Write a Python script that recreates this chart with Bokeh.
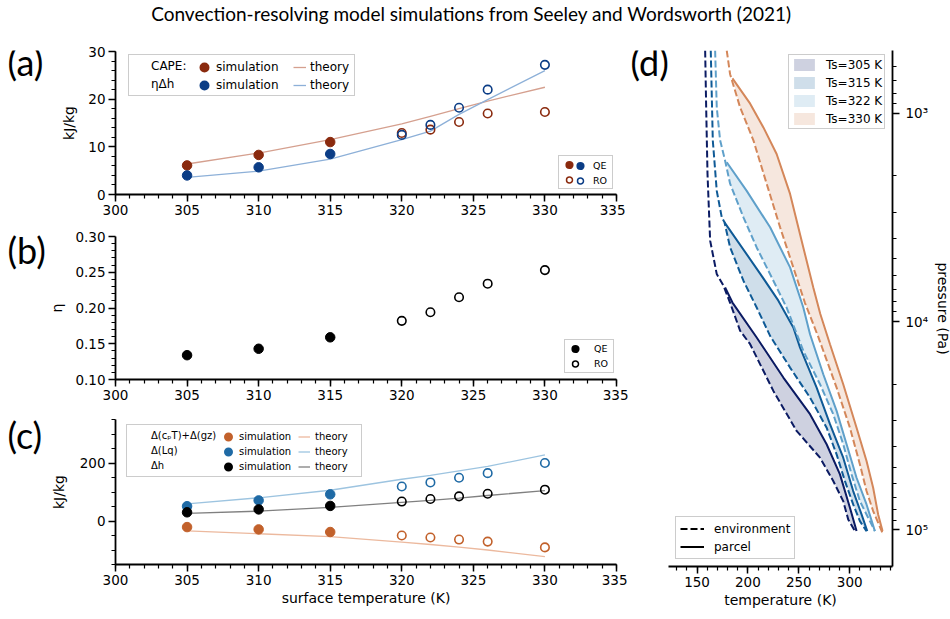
import numpy as np
from bokeh.plotting import figure
from bokeh.layouts import column, row
from bokeh.models import (Range1d, SingleIntervalTicker, FixedTicker, Legend, LegendItem,
                          PrintfTickFormatter)
from bokeh.core.properties import value
from bokeh.embed import file_html
from bokeh.resources import INLINE

TITLE = "Convection-resolving model simulations from Seeley and Wordsworth (2021)"
PANEL_LABELS = ["(a)", "(b)", "(c)"]

# ---------------- panel (a)/(b)/(c) data ----------------
ts_qe = [305, 310, 315]
ts_ro = [320, 322, 324, 326, 330]
ts_theory = [305, 310, 315, 320, 322, 324, 326, 330]

cape_qe = [6.1, 8.3, 11.0]
cape_ro = [12.9, 13.6, 15.2, 17.0, 17.3]
etadh_qe = [4.0, 5.7, 8.5]
etadh_ro = [12.5, 14.6, 18.2, 22.0, 27.2]
cape_theory = [6.4, 8.7, 11.5, 14.8, 16.4, 18.0, 19.6, 22.5]
etadh_theory = [3.6, 4.9, 7.4, 11.5, 13.3, 16.8, 19.9, 26.0]

eta_qe = [0.134, 0.143, 0.159]
eta_ro = [0.182, 0.194, 0.215, 0.234, 0.253]
eta_ticks = [0.10, 0.15, 0.20, 0.25, 0.30]
eta_minor = [0.11, 0.12, 0.13, 0.14, 0.16, 0.17, 0.18, 0.19, 0.21, 0.22, 0.23, 0.24,
             0.26, 0.27, 0.28, 0.29]

dse_qe = [-21, -29, -38]
dse_ro = [-50, -57, -64, -71, -91]
lq_qe = [51, 71, 92]
lq_ro = [119, 133, 149, 165, 200]
dh_qe = [30, 40, 52]
dh_ro = [67, 76, 85, 94, 108]
dse_theory = [-34, -44, -54, -73, -81, -90, -100, -123]
lq_theory = [59, 80, 106, 144, 157, 173, 188, 228]
dh_theory = [26, 34, 47, 64, 71, 79, 88, 105]

# ---------------- panel (d) data: temperature (K) vs pressure (Pa) ----------------
env305_T = [158.0, 159.0, 160.3, 162.9, 169.4, 176.0, 182.5, 192.4, 202.2, 225.0, 247.8, 270.8, 283.8, 293.6, 298.5, 305.1]
env305_p = [500, 940, 1950, 4090, 5920, 6730, 8130, 11090, 12850, 21540, 33500, 45050, 58300, 72800, 89100, 101400]
par305_T = [177.6, 184.8, 208.6, 234.8, 261.0, 277.3, 290.4, 300.2, 306.7]
par305_p = [6870, 8110, 11940, 18580, 27860, 38830, 54170, 78340, 101400]

env315_T = [163.5, 165.5, 169.4, 174.3, 177.0, 182.5, 195.6, 208.6, 221.8, 241.4, 261.0, 277.3, 287.1, 295.3, 303.4, 310.0, 316.5]
env315_p = [500, 1350, 2360, 3160, 3340, 4410, 6370, 8570, 11720, 16640, 23180, 32340, 43430, 58390, 75540, 90850, 101400]
par315_T = [177.0, 212.3, 229.9, 244.6, 251.2, 267.5, 280.6, 293.6, 303.4, 311.6, 317.2]
par315_p = [3340, 5920, 7940, 10680, 13340, 20760, 31120, 45060, 65150, 84330, 101400]

env322_T = [167.8, 169.4, 172.7, 177.6, 182.5, 195.6, 208.6, 225.0, 238.0, 254.4, 270.8, 283.8, 293.6, 301.8, 310.0, 318.1, 324.7]
env322_p = [500, 940, 1350, 1690, 2180, 3160, 4410, 6370, 8570, 13840, 20000, 27860, 38830, 54170, 72800, 87500, 101400]
par322_T = [179.2, 198.8, 221.8, 241.4, 254.4, 261.0, 274.0, 287.1, 296.9, 306.7, 316.5, 324.7]
par322_p = [1720, 2360, 3530, 5500, 8570, 11510, 17910, 26850, 38830, 56240, 75540, 101400]

env330_T = [179.2, 182.5, 192.4, 205.4, 218.4, 231.6, 244.6, 255.9, 269.1, 287.1, 300.2, 310.0, 316.5, 323.0, 332.8]
env330_p = [500, 650, 940, 1350, 2180, 3530, 5500, 8110, 11860, 20760, 32340, 48520, 65150, 81240, 105200]
par330_T = [184.8, 202.2, 215.2, 228.2, 241.4, 254.4, 264.2, 271.1, 280.6, 293.6, 306.7, 316.5, 323.0, 327.9, 332.2]
par330_p = [680, 900, 1170, 1570, 2440, 4410, 6870, 9200, 12850, 20000, 32340, 46770, 62810, 84330, 101400]

ts_labels = ["Ts=305 K", "Ts=315 K", "Ts=322 K", "Ts=330 K"]
p_major = [1e3, 1e4, 1e5]
p_minor = [600, 700, 800, 900, 2000, 3000, 4000, 5000, 6000, 7000, 8000, 9000,
           20000, 30000, 40000, 50000, 60000, 70000, 80000, 90000]

# ---------------- colours ----------------
RED_A, BLUE_A = "#8a2a0e", "#0b3d86"
RED_TH, BLUE_TH = "#d5a08f", "#8db0d8"
OR_C, BL_C, BK = "#c2612b", "#1f6aa5", "black"
OR_TH, BL_TH, GR_TH = "#ecb99e", "#9dc4e0", "#808080"
D_COLS = ["#0b1b63", "#0f5a96", "#5fa0ca", "#d4875a"]

FONT = "DejaVu Sans"
NAN = np.array([np.nan])


def style_axes(p):
    for ax in p.axis:
        ax.axis_line_width = 1.8
        ax.axis_line_color = "black"
        ax.major_tick_line_width = 1.5
        ax.minor_tick_line_width = 1.2
        ax.major_tick_line_color = "black"
        ax.minor_tick_line_color = "black"
        ax.major_tick_out = 7
        ax.major_tick_in = 0
        ax.minor_tick_out = 4
        ax.minor_tick_in = 0
        ax.major_label_text_font = FONT
        ax.major_label_text_font_size = "13.5px"
        ax.major_label_text_color = "black"
        ax.major_label_standoff = 3
        ax.axis_label_text_font = FONT
        ax.axis_label_text_font_size = "14px"
        ax.axis_label_text_font_style = "normal"
        ax.axis_label_text_color = "black"
    p.grid.visible = False
    p.outline_line_color = None


def add_legend(p, items, loc, font_size, gw, gh, spacing, padding, standoff,
               label_width, boxed):
    # every legend of a group shares the same layout properties so that rows line up
    leg = Legend(items=[LegendItem(label=l, renderers=[r]) for l, r in items],
                 location=loc, orientation="vertical", margin=0,
                 glyph_width=gw, glyph_height=gh, label_height=gh, label_width=label_width,
                 spacing=spacing, padding=padding, label_standoff=standoff,
                 label_text_font=FONT, label_text_font_size=font_size,
                 label_text_color="black",
                 border_line_color="#cccccc", border_line_width=1,
                 border_line_alpha=1.0 if boxed else 0.0,
                 background_fill_color="white",
                 background_fill_alpha=0.85 if boxed else 0.0)
    p.add_layout(leg)
    return leg


def left_fig(yr, fh, top, bottom):
    p = figure(frame_width=501, frame_height=fh, x_range=Range1d(300, 335),
               y_range=Range1d(*yr), toolbar_location=None, output_backend="svg",
               min_border_left=66, min_border_right=12, min_border_top=top,
               min_border_bottom=bottom)
    p.xaxis.ticker = SingleIntervalTicker(interval=5, num_minor_ticks=5)
    return p


def proxy_marker(p, color, filled, lw):
    # legend-only proxy (a single NaN point is never drawn in the plot)
    return p.scatter(x=NAN, y=NAN, marker="circle", size=5,
                     fill_color=color if filled else None, line_color=color, line_width=lw)


def proxy_line(p, color, dash="solid"):
    return p.line(x=NAN, y=NAN, line_color=color, line_width=2, line_dash=dash)


def label_fig(w, xs, ys, texts):
    f = figure(frame_width=w, frame_height=575, x_range=Range1d(0, w), y_range=Range1d(0, 575),
               x_axis_type=None, y_axis_type=None, toolbar_location=None, output_backend="svg",
               min_border=0, outline_line_color=None, title=None, align="start")
    f.text(x=xs, y=ys, text=texts, text_font=value("Lato"), text_font_size="36px",
           text_baseline="middle", text_align="left", text_color="black")
    return f


# ---------------- title ----------------
tf = figure(frame_width=942, frame_height=36, x_range=Range1d(0, 1), y_range=Range1d(0, 36),
            x_axis_type=None, y_axis_type=None, toolbar_location=None, output_backend="svg",
            min_border=0, outline_line_color=None)
tf.text(x=[0.5], y=[35], text=[TITLE], text_font=value("Lato"), text_font_size="19px",
        text_align="center", text_baseline="top", text_color="black")

# ---------------- panel (a) ----------------
fa = left_fig((0, 30), 143, 15, 29)
fa.yaxis.ticker = SingleIntervalTicker(interval=10, num_minor_ticks=5)
fa.yaxis.axis_label = "kJ/kg"
th_cape = fa.line(ts_theory, cape_theory, line_color=RED_TH, line_width=1.3)
th_eta = fa.line(ts_theory, etadh_theory, line_color=BLUE_TH, line_width=1.3)
fa.scatter(ts_qe, cape_qe, marker="circle", size=9.5, fill_color=RED_A, line_color=RED_A)
fa.scatter(ts_qe, etadh_qe, marker="circle", size=9.5, fill_color=BLUE_A, line_color=BLUE_A)
fa.scatter(ts_ro, cape_ro, marker="circle", size=8.5, fill_color=None, line_color=RED_A, line_width=1.6)
fa.scatter(ts_ro, etadh_ro, marker="circle", size=8.5, fill_color=None, line_color=BLUE_A, line_width=1.6)
style_axes(fa)
fa.yaxis.axis_label_standoff = 8
blank_a = fa.scatter(x=NAN, y=NAN, size=1, fill_alpha=0, line_alpha=0)
A_ROW = dict(font_size="12px", gh=16, spacing=2, padding=3, label_width=200)
add_legend(fa, [("CAPE:", blank_a), ("ηΔh", blank_a)], (13, 98), gw=14, standoff=5,
           boxed=True, **A_ROW)
add_legend(fa, [("simulation", proxy_marker(fa, RED_A, True, 4.4)),
                ("simulation", proxy_marker(fa, BLUE_A, True, 4.4))],
           (79, 98), gw=14, standoff=5, boxed=False, **A_ROW)
add_legend(fa, [("theory", th_cape), ("theory", th_eta)],
           (175, 98), gw=13, standoff=4, boxed=False, **A_ROW)
Q_ROW = dict(font_size="9.5px", gh=15, spacing=0, padding=1, label_width=33)
add_legend(fa, [(" ", proxy_marker(fa, RED_A, True, 2.2)),
                (" ", proxy_marker(fa, RED_A, False, 1.5))],
           (443, 5), gw=18, standoff=0, boxed=True, **Q_ROW)
add_legend(fa, [("QE", proxy_marker(fa, BLUE_A, True, 2.2)),
                ("RO", proxy_marker(fa, BLUE_A, False, 1.5))],
           (455, 5), gw=18, standoff=4, boxed=False, **Q_ROW)

# ---------------- panel (b) ----------------
fb = left_fig((0.10, 0.30), 143, 13, 27)
fb.yaxis.ticker = FixedTicker(ticks=eta_ticks, minor_ticks=eta_minor)
fb.yaxis.formatter = PrintfTickFormatter(format="%.2f")
fb.yaxis.axis_label = "η"
fb.scatter(ts_qe, eta_qe, marker="circle", size=9.5, fill_color=BK, line_color=BK)
fb.scatter(ts_ro, eta_ro, marker="circle", size=8.5, fill_color=None, line_color=BK, line_width=1.6)
style_axes(fb)
fb.yaxis.axis_label_standoff = 7
add_legend(fb, [("QE", proxy_marker(fb, BK, True, 2.2)),
                ("RO", proxy_marker(fb, BK, False, 1.5))],
           (449, 6), "9.5px", 18, 15, 0, 1, 10, label_width=18, boxed=True)

# ---------------- panel (c) ----------------
fc = left_fig((-150, 350), 145, 13, 46)
fc.yaxis.ticker = SingleIntervalTicker(interval=200, num_minor_ticks=4)
fc.yaxis.axis_label = "kJ/kg"
fc.xaxis.axis_label = "surface temperature (K)"
th_dse = fc.line(ts_theory, dse_theory, line_color=OR_TH, line_width=1.3)
th_lq = fc.line(ts_theory, lq_theory, line_color=BL_TH, line_width=1.3)
th_dh = fc.line(ts_theory, dh_theory, line_color=GR_TH, line_width=1.3)
for qe, ro, col in [(dse_qe, dse_ro, OR_C), (lq_qe, lq_ro, BL_C), (dh_qe, dh_ro, BK)]:
    fc.scatter(ts_qe, qe, marker="circle", size=9.5, fill_color=col, line_color=col)
    fc.scatter(ts_ro, ro, marker="circle", size=8.5, fill_color=None, line_color=col, line_width=1.6)
style_axes(fc)
fc.yaxis.axis_label_standoff = 10
fc.xaxis.axis_label_standoff = 2
blank_c = fc.scatter(x=NAN, y=NAN, size=1, fill_alpha=0, line_alpha=0)
C_ROW = dict(font_size="10px", gh=13, spacing=2, padding=4, label_width=206)
add_legend(fc, [("Δ(cₚT)+Δ(gz)", blank_c), ("Δ(Lq)", blank_c), ("Δh", blank_c)],
           (11, 87), gw=15, standoff=5, boxed=True, **C_ROW)
add_legend(fc, [("simulation", proxy_marker(fc, OR_C, True, 4.2)),
                ("simulation", proxy_marker(fc, BL_C, True, 4.2)),
                ("simulation", proxy_marker(fc, BK, True, 4.2))],
           (103, 87), gw=12, standoff=5, boxed=False, **C_ROW)
add_legend(fc, [("theory", th_dse), ("theory", th_lq), ("theory", th_dh)],
           (179, 87), gw=12, standoff=5, boxed=False, **C_ROW)

# ---------------- panel (d) ----------------
fd = figure(frame_width=224, frame_height=516, x_range=Range1d(122, 342),
            y_range=Range1d(150000, 500), y_axis_type="log", y_axis_location="right",
            toolbar_location=None, output_backend="svg",
            min_border_left=0, min_border_right=53, min_border_top=14, min_border_bottom=45)
fd.xaxis.ticker = SingleIntervalTicker(interval=50, num_minor_ticks=5)
fd.yaxis.ticker = FixedTicker(ticks=p_major, minor_ticks=p_minor)
fd.yaxis.major_label_overrides = {1000: "10³", 10000: "10⁴", 100000: "10⁵"}
fd.xaxis.axis_label = "temperature (K)"
fd.yaxis.axis_label = "pressure (Pa)"

profiles = [(env305_T, env305_p, par305_T, par305_p),
            (env315_T, env315_p, par315_T, par315_p),
            (env322_T, env322_p, par322_T, par322_p),
            (env330_T, env330_p, par330_T, par330_p)]
patches = []
for (eT, ep, pT, pp), col in zip(profiles, D_COLS):
    eT_a, ep_a = np.array(eT), np.array(ep)
    keep = ep_a > pp[0]
    xs = list(pT) + list(eT_a[keep][::-1])
    ys = list(pp) + list(ep_a[keep][::-1])
    patches.append(fd.patch(xs, ys, fill_color=col, fill_alpha=0.2, line_alpha=0))
for (eT, ep, pT, pp), col in zip(profiles, D_COLS):
    fd.line(eT, ep, line_color=col, line_width=2, line_dash="7 3")
    fd.line(pT, pp, line_color=col, line_width=2)
style_axes(fd)
fd.xaxis.axis_label_standoff = 2
fd.yaxis.major_label_standoff = 6
fd.yaxis.axis_label_standoff = 4
fd.yaxis.axis_label_orientation = "vertical"
add_legend(fd, list(zip(ts_labels, patches)), (120, 437), "12px", 26, 15, 3, 2, 9,
           label_width=20, boxed=True)
add_legend(fd, [("environment", proxy_line(fd, "black", "7 3")),
                ("parcel", proxy_line(fd, "black"))],
           (7, 7), "12px", 24, 15, 3, 4, 10, label_width=20, boxed=True)

# ---------------- panel labels ----------------
lab_left = label_fig(46, [7, 7, 7], [564, 376, 191], PANEL_LABELS)
lab_d = label_fig(40, [2], [564], ["(d)"])

layout = column(tf, row(lab_left, column(fa, fb, fc), lab_d, fd))
open("out.html", "w").write(file_html(layout, INLINE))
